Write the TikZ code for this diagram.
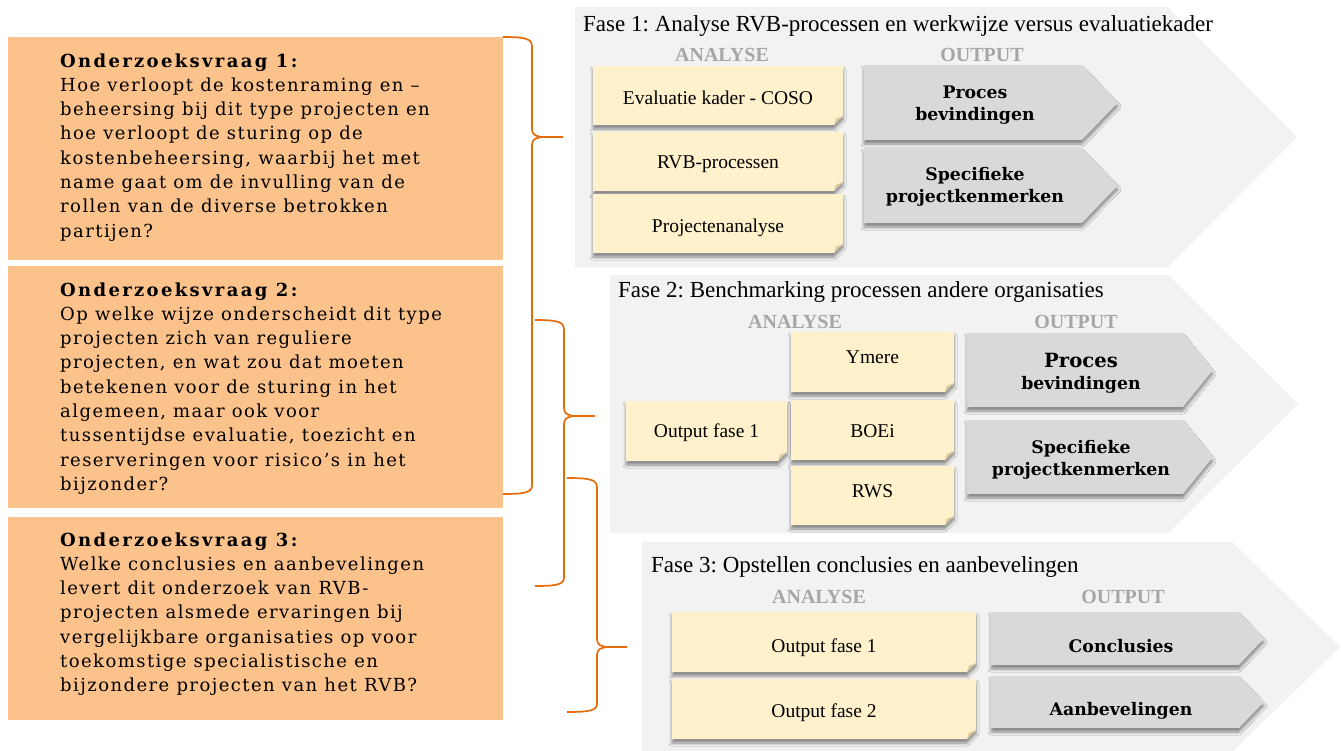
\documentclass[tikz,border=0pt]{standalone}
\usepackage{fontspec}
\setmainfont{Liberation Serif}
\newfontfamily\qfont{DejaVu Serif}[LetterSpace=8]
\newfontfamily\boldserif{DejaVu Serif}
\usetikzlibrary{shadows.blur}
\definecolor{qorange}{RGB}{252,194,139}
\definecolor{brc}{RGB}{228,108,10}
\definecolor{panel}{RGB}{242,242,242}
\definecolor{note}{RGB}{254,241,204}
\definecolor{fold}{RGB}{214,196,150}
\definecolor{outg}{RGB}{217,217,217}
\definecolor{hdr}{RGB}{166,166,166}
\tikzset{
  qbox/.style={fill=qorange},
  qtext/.style={anchor=base west, inner sep=0pt, font=\qfont\fontsize{18}{24.3}\selectfont},
  brace/.style={draw=brc, line width=1.7pt},
  panelbg/.style={fill=panel},
  phasetitle/.style={anchor=base west, inner sep=0pt, font=\frenchspacing\fontsize{23}{24}\selectfont},
  colhead/.style={anchor=base, inner sep=0pt, text=hdr, font=\fontsize{20}{22}\selectfont\bfseries},
  softshadow/.style={blur shadow={shadow xshift=0pt, shadow yshift=-4pt, shadow blur radius=3pt, shadow blur steps=6, shadow opacity=45}},
  notefill/.style={fill=note, softshadow},
  notetext/.style={anchor=base, inner sep=0pt, font=\fontsize{19.5}{22}\selectfont},
  arrowfill/.style={fill=outg, softshadow},
  outtext/.style={anchor=base, inner sep=0pt, font=\boldserif\bfseries\fontsize{17.3}{22}\selectfont},
}
\newcommand\qtitle[1]{{\bfseries\addfontfeature{LetterSpace=13}#1}}
% x1 y1 x2 y2 name baseline text
\newcommand\notebox[7]{%
  \fill[notefill] (#1,#2) -- (#3,#2) -- (#3,#4-9) -- (#3-9,#4) -- (#1,#4) -- cycle;
  \fill[fold] (#3,#4-9) -- (#3-9,#4) -- (#3-7,#4-6) -- cycle;
  \node[notetext] (#5) at ({(#1+#3)/2},#6) {#7};
}
% x1 y1 x2 tip y2 name textx baseline text
\newcommand\outarrow[9]{%
  \fill[arrowfill] (#1,#2) -- (#3,#2) -- (#4,{(#2+#5)/2}) -- (#3,#5) -- (#1,#5) -- cycle;
  \node[outtext] (#6) at (#7,#8) {\begin{tabular}[t]{@{}c@{}}#9\end{tabular}};
}
\begin{document}
\begin{tikzpicture}[x=1pt,y=-1pt]
\useasboundingbox (0,0) rectangle (1341,750);
\fill[white] (0,0) rectangle (1341,750);

% ---------- research questions ----------
\fill[qbox] (8,37) rectangle (503,260);
\fill[qbox] (8,266) rectangle (503,508);
\fill[qbox] (8,517) rectangle (503,720);
\node[qtext] (q1) at (60,67) {\parbox[t]{600pt}{\raggedright
\qtitle{Onderzoeksvraag 1:}\\
Hoe verloopt de kostenraming en –\\
beheersing bij dit type projecten en\\
hoe verloopt de sturing op de\\
kostenbeheersing, waarbij het met\\
name gaat om de invulling van de\\
rollen van de diverse betrokken\\
partijen?}};
\node[qtext] (q2) at (60,296) {\parbox[t]{600pt}{\raggedright
\qtitle{Onderzoeksvraag 2:}\\
Op welke wijze onderscheidt dit type\\
projecten zich van reguliere\\
projecten, en wat zou dat moeten\\
betekenen voor de sturing in het\\
algemeen, maar ook voor\\
tussentijdse evaluatie, toezicht en\\
reserveringen voor risico’s in het\\
bijzonder?}};
\node[qtext] (q3) at (60,546) {\parbox[t]{600pt}{\raggedright
\qtitle{Onderzoeksvraag 3:}\\
Welke conclusies en aanbevelingen\\
levert dit onderzoek van RVB-\\
projecten alsmede ervaringen bij\\
vergelijkbare organisaties op voor\\
toekomstige specialistische en\\
bijzondere projecten van het RVB?}};

% ---------- phase panels ----------
\fill[panelbg] (575,7) -- (1168,7) -- (1297,137) -- (1168,267) -- (575,267) -- cycle;
\fill[panelbg] (610,275) -- (1168,275) -- (1298,404) -- (1168,533) -- (610,533) -- cycle;
\fill[panelbg] (642,542) -- (1232,542) -- (1340,647) -- (1232,752) -- (642,752) -- cycle;

% ---------- braces ----------
\draw[brace] (503,37) .. controls (527,37) and (532,39) .. (532,47)
  -- (532,129) .. controls (532,135) and (536,137) .. (545,137) -- (563,137)
  (545,137) .. controls (536,137) and (532,139) .. (532,145)
  -- (532,485) .. controls (532,492) and (527,494) .. (503,494);
\draw[brace] (535,320) .. controls (559,320) and (564,322) .. (564,330)
  -- (564,408) .. controls (564,414) and (568,416) .. (577,416) -- (595,416)
  (577,416) .. controls (568,416) and (564,418) .. (564,424)
  -- (564,577) .. controls (564,584) and (559,586) .. (535,586);
\draw[brace] (567,478) .. controls (592,478) and (597,480) .. (597,488)
  -- (597,639) .. controls (597,645) and (601,647) .. (610,647) -- (627,647)
  (610,647) .. controls (601,647) and (597,649) .. (597,655)
  -- (597,703) .. controls (597,710) and (592,712) .. (567,712);

% ---------- Fase 1 ----------
\node[phasetitle] (t1) at (583,31) {Fase 1: Analyse RVB-processen en werkwijze versus evaluatiekader};
\node[colhead] (a1) at (722,61) {ANALYSE};
\node[colhead] (o1) at (982,61) {OUTPUT};
\notebox{593}{66}{843}{125}{n11}{104}{Evaluatie kader - COSO}
\notebox{593}{132}{843}{191}{n12}{168}{RVB-processen}
\notebox{593}{194}{843}{253}{n13}{232}{Projectenanalyse}
\outarrow{864}{65}{1082}{1118}{140}{r11}{975}{98}{Proces\\bevindingen}
\outarrow{864}{148}{1082}{1118}{223}{r12}{975}{180}{Specifieke\\projectkenmerken}

% ---------- Fase 2 ----------
\node[phasetitle] (t2) at (618,297) {Fase 2: Benchmarking processen andere organisaties};
\node[colhead] (a2) at (795,328) {ANALYSE};
\node[colhead] (o2) at (1076,328) {OUTPUT};
\notebox{791}{332}{954}{392}{n21}{363}{Ymere}
\notebox{626}{401}{787}{461}{n22}{437}{Output fase 1}
\notebox{791}{400}{954}{460}{n23}{437}{BOEi}
\notebox{791}{466}{954}{525}{n24}{497}{RWS}
\outarrow{967}{333}{1183}{1213}{407}{r21}{1081}{367}{{\fontsize{19.6}{22}\selectfont Proces}\\bevindingen}
\outarrow{967}{420}{1183}{1213}{494}{r22}{1081}{453}{Specifieke\\projectkenmerken}

% ---------- Fase 3 ----------
\node[phasetitle] (t3) at (651,572) {Fase 3: Opstellen conclusies en aanbevelingen};
\node[colhead] (a3) at (819,603) {ANALYSE};
\node[colhead] (o3) at (1123,603) {OUTPUT};
\notebox{672}{612}{976}{672}{n31}{652}{Output fase 1}
\notebox{672}{679}{976}{739}{n32}{717}{Output fase 2}
\outarrow{991}{612}{1239}{1264}{665}{r31}{1121}{652}{Conclusies}
\outarrow{991}{676}{1239}{1264}{728}{r32}{1121}{715}{Aanbevelingen}
\end{tikzpicture}
\end{document}
